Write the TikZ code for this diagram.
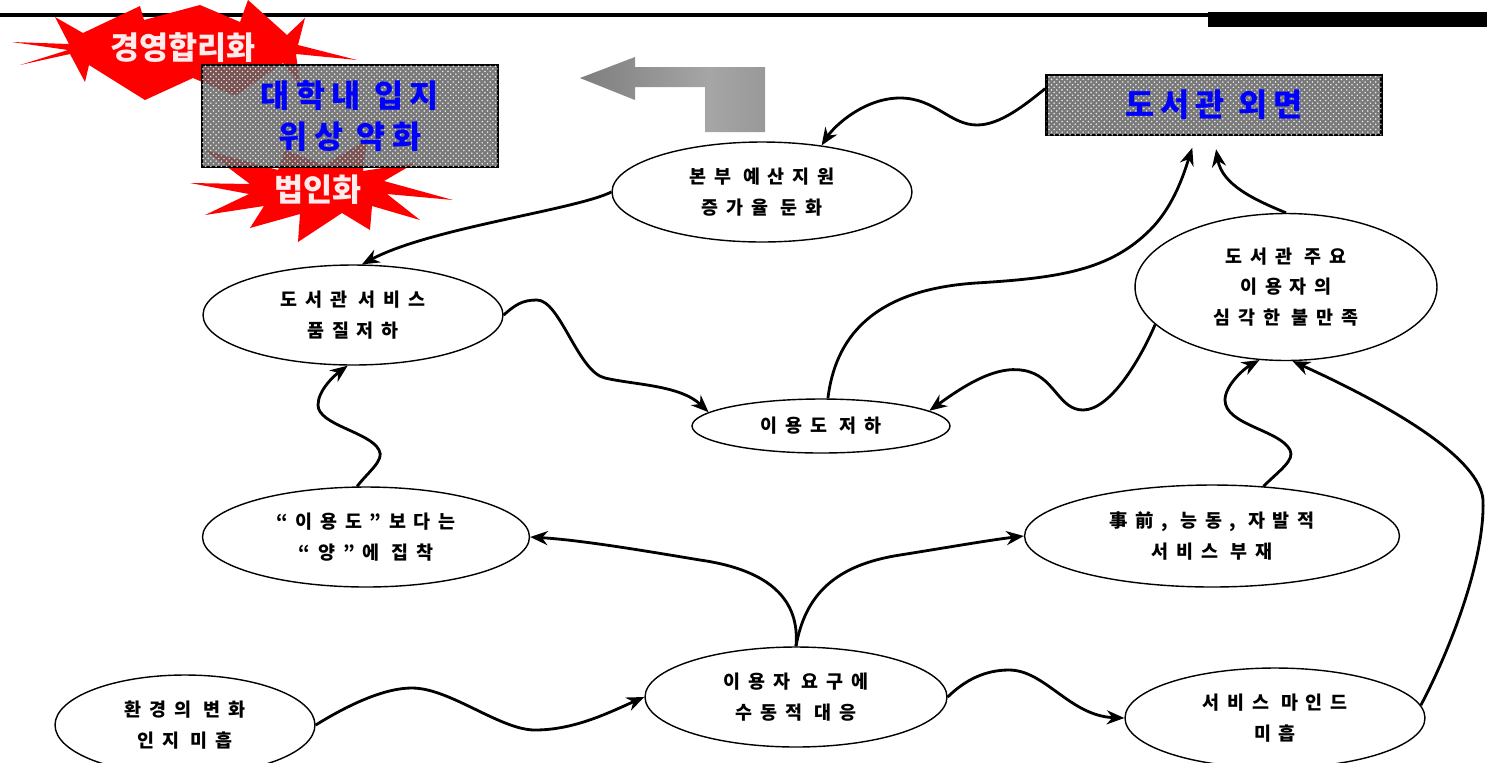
\documentclass[tikz,border=0pt]{standalone}
\usepackage{fontspec}
\setmainfont{Noto Sans CJK KR}
\newfontfamily\spaced[LetterSpace=42]{Noto Sans CJK KR}
\newfontfamily\wide[LetterSpace=20]{Noto Sans CJK KR}
\usetikzlibrary{shapes.geometric, arrows.meta, patterns}
\pgfdeclarehorizontalshading{blockarrow}{100bp}{color(0bp)=(black!62); color(60bp)=(black!35); color(80bp)=(black!42); color(100bp)=(black!70)}

\begin{document}
\begin{tikzpicture}[
    x=0.02cm, y=-0.02cm,
    cause/.style={draw, ellipse, line width=0.8pt, fill=white, align=center, inner sep=0pt, font=\spaced\bfseries\fontsize{10.5}{17.5}\selectfont},
    link/.style={draw, line width=1.6pt, -{Stealth[length=10pt, width=8pt]}},
    burst/.style={fill=red},
    burst_text/.style={font=\bfseries\fontsize{18}{20}\selectfont, text=red!8!white},
    panel/.style={draw, line width=1.6pt, fill=black!62, fill opacity=0.85, text opacity=1, align=center, inner sep=0pt, text=blue, font=\wide\bfseries\fontsize{18}{23}\selectfont, postaction={pattern=crosshatch dots, pattern color=white}}
]
    \useasboundingbox (0,0) rectangle (1487,762);

    % Top rule
    \draw[line width=2pt] (0,15) -- (1210,15);
    \fill (1208,12) rectangle (1487,27);

    % Starbursts
    \fill[burst] (12,42) -- (69,44) -- (55,17) -- (83,33) -- (140,6) -- (144,20) -- (200,5) -- (240,22) -- (248,0) -- (287,35) -- (305,18) -- (298,45) -- (357,60) -- (296,54) -- (300,85) -- (283,63) -- (235,96) -- (193,78) -- (145,100) -- (89,65) -- (85,82) -- (70,54) -- (20,65) -- (68,50) -- cycle;
    \fill[burst] (190,183) -- (250,184) -- (205,150) -- (278,170) -- (285,150) -- (324,165) -- (367,140) -- (363,171) -- (415,163) -- (384,181) -- (453,200) -- (387,194) -- (420,220) -- (372,206) -- (370,230) -- (342,213) -- (298,242) -- (300,214) -- (250,228) -- (264,206) -- (205,215) -- (249,194) -- cycle;
    \node[burst_text] (rational) at (183,48) {경영합리화};
    \node[burst_text] (corp) at (318,190) {법인화};

    % Boxes
    \node[panel, minimum width=5.92cm, minimum height=2.04cm] (standing) at (350,116) {대학내 입지\\위상 약화};
    \node[panel, minimum width=6.7cm, minimum height=1.2cm] (neglect) at (1214,105) {도서관 외면};

    % Gray arrow
    \shade[shading=blockarrow] (580,78) -- (635,57) -- (635,67) -- (765,67) -- (765,132) -- (705,132) -- (705,87) -- (635,87) -- (635,100) -- cycle;

    % Causes
    \node[cause, minimum width=6cm, minimum height=2cm] (fund) at (762,192) {본부 예산지원\\증가율 둔화};
    \node[cause, minimum width=6cm, minimum height=2cm] (quality) at (353,315) {도서관 서비스\\품질저하};
    \node[cause, minimum width=5.16cm, minimum height=1.08cm] (usage) at (821,426) {이용도 저하};
    \node[cause, minimum width=6.04cm, minimum height=2.94cm] (dissat) at (1286,287) {도서관 주요\\이용자의\\심각한 불만족};
    \node[cause, minimum width=6.54cm, minimum height=2cm] (quantity) at (366,537) {“이용도”보다는\\“양”에 집착};
    \node[cause, minimum width=7.5cm, minimum height=2.04cm] (proactive) at (1212,536) {事前, 능동, 자발적\\서비스 부재};
    \node[cause, minimum width=5.2cm, minimum height=2cm] (env) at (185,725) {환경의 변화\\인지 미흡};
    \node[cause, minimum width=6.04cm, minimum height=2cm] (passive) at (796,697) {이용자 요구에\\수동적 대응};
    \node[cause, minimum width=6cm, minimum height=2cm] (mind) at (1275,718) {서비스 마인드\\미흡};

    % Connectors
    \draw[link] ([yshift=-0.3cm]neglect.north west) .. controls (1025,105) and (1000,125) .. (977,125) .. controls (950,125) and (935,98) .. (900,98) .. controls (865,98) and (835,125) .. (fund.38);
    \draw[link] (fund.west) .. controls (575,210) and (430,228) .. (quality.80);
    \draw[link] (quality.east) .. controls (515,305) and (522,300) .. (537,300) .. controls (560,300) and (578,372) .. (605,378) .. controls (635,385) and (680,385) .. (usage.173);
    \draw[link] (quantity.100) .. controls (368,472) and (385,460) .. (379,450) .. controls (370,432) and (318,425) .. (318,405) .. controls (318,390) and (335,375) .. (quality.264);
    \draw[link, shorten >=0.24cm] (usage.76) .. controls (835,340) and (870,290) .. (976,283) .. controls (1060,278) and (1110,270) .. (1150,230) .. controls (1175,205) and (1185,170) .. ([xshift=-0.36cm]neglect.south);
    \draw[link, shorten >=0.26cm] (dissat.north) .. controls (1255,200) and (1222,185) .. (neglect.south);
    \draw[link] (dissat.196) .. controls (1140,360) and (1110,410) .. (1083,410) .. controls (1060,410) and (1055,380) .. (1030,372) .. controls (1000,362) and (965,385) .. (usage.8);
    \draw[link] (proactive.44) .. controls (1280,470) and (1295,460) .. (1290,450) .. controls (1280,430) and (1225,425) .. (1225,400) .. controls (1225,385) and (1245,368) .. (dissat.250);
    \draw[link] (mind.5) .. controls (1450,650) and (1485,560) .. (1483,500) .. controls (1480,460) and (1400,410) .. (dissat.275);
    \draw[link] (passive.north) .. controls (800,600) and (770,570) .. (700,560) .. controls (640,550) and (580,540) .. (quantity.east);
    \draw[link] (passive.north) .. controls (805,595) and (835,565) .. (900,555) .. controls (950,547) and (990,540) .. (proactive.west);
    \draw[link] (env.east) .. controls (340,710) and (380,688) .. (412,688) .. controls (450,688) and (500,730) .. (535,730) .. controls (575,730) and (610,712) .. (passive.west);
    \draw[link] (passive.east) .. controls (965,680) and (985,670) .. (1009,670) .. controls (1045,670) and (1070,716) .. (mind.west);

\end{tikzpicture}
\end{document}
